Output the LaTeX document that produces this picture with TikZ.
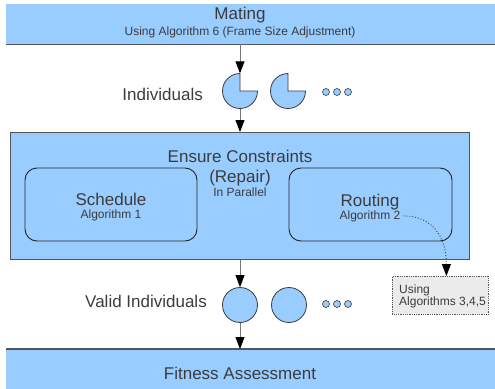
\documentclass[tikz,border=0pt]{standalone}
\usepackage{fontspec}
\setmainfont{Liberation Sans}
\usetikzlibrary{arrows.meta}
\definecolor{panel}{HTML}{99CCFF}
\definecolor{ink}{HTML}{3C3C3C}
\definecolor{edge}{HTML}{555555}
\definecolor{wire}{HTML}{777777}
\definecolor{note}{HTML}{EBEBEB}
\tikzset{
  big/.style={font=\fontsize{17}{20}\selectfont, text=ink, inner sep=0pt},
  small/.style={font=\fontsize{12}{14}\selectfont, text=ink, inner sep=0pt},
  tip/.style={-{Triangle[width=9pt,length=12pt,color=black]}},
  flow/.style={draw=wire, line width=0.9pt, tip},
  band/.style={fill=panel, inner sep=0pt, anchor=north west},
  task/.style={draw=black!85, line width=0.9pt, rounded corners=12pt,
               inner sep=0pt, minimum width=#1, minimum height=73pt},
  slot/.style={circle, inner sep=0pt, minimum size=35pt},
  member/.style={slot, draw=ink, fill=panel, line width=0.8pt},
  dot/.style={circle, draw=ink, fill=panel, line width=0.6pt, inner sep=0pt, minimum size=7pt},
}
\begin{document}
\begin{tikzpicture}[x=1pt, y=-1pt]
\useasboundingbox (0,0) rectangle (495,388);

% top stage: mating
\node[band, minimum width=489pt, minimum height=40pt] (mating) at (6,4) {};
\draw[edge, line width=1.2pt] (mating.south west) -- (mating.south east);
\node[big, anchor=base] (matingT) at (240,19) {Mating};
\node[small, anchor=base] (matingS) at (240,35.5) {Using Algorithm 6 (Frame Size Adjustment)};

% offspring (not yet repaired)
\node[big, anchor=base east] (indT) at (203,100) {Individuals};
\node[slot] (p1) at (240,91) {};
\node[slot] (p2) at (288,91) {};
\foreach \p in {p1,p2}
  \filldraw[fill=panel, draw=ink, line width=0.8pt]
    (\p.center) -- ++(0,-17.5) arc[start angle=90, end angle=360, radius=17.5pt] -- cycle;
\node[dot] (d1) at (326,92) {};
\node[dot] (d2) at (337,92) {};
\node[dot] (d3) at (348,92) {};

% repair stage
\node[band, draw=edge, line width=0.8pt, minimum width=459pt, minimum height=127pt] (repair) at (10,132) {};
\node[big, anchor=base] (rep1) at (240,162) {Ensure Constraints};
\node[big, anchor=base] (rep2) at (240,182) {(Repair)};
\node[small, anchor=base] (rep3) at (240,196.5) {In Parallel};

\node[task=172pt] (sched) at (111,204.5) {};
\node[big, anchor=base] (schedT) at (111,205) {Schedule};
\node[small, anchor=base] (schedS) at (111,218) {Algorithm 1};

\node[task=163pt] (route) at (370.5,204.5) {};
\node[big, anchor=base] (routeT) at (370,206) {Routing};
\node[small, anchor=base] (routeS) at (370,219) {Algorithm 2};

% note on routing
\node[fill=note, draw=edge, densely dotted, line width=0.8pt, inner sep=0pt,
      minimum width=96pt, minimum height=38pt, anchor=north west] (using) at (392,276) {};
\node[small, anchor=base west] (using1) at (399,293) {Using};
\node[small, anchor=base west] (using2) at (399,305) {Algorithms 3,4,5};
\draw[ink, dotted, line width=0.9pt, tip]
  ([xshift=3pt]routeS.east) .. controls +(28,0) and +(0,-40) .. ([xshift=6pt]using.north);

% repaired offspring
\node[big, anchor=base east] (validT) at (207,307) {Valid Individuals};
\node[member] (v1) at (240,305) {};
\node[member] (v2) at (289,305) {};
\node[dot] (e1) at (326,304) {};
\node[dot] (e2) at (337,304) {};
\node[dot] (e3) at (348,304) {};

% bottom stage: fitness
\node[band, minimum width=489pt, minimum height=40pt] (fitness) at (6,349) {};
\draw[edge, line width=1.2pt] (fitness.north west) -- (fitness.north east);
\node[big, anchor=base] (fitT) at (240,379) {Fitness Assessment};

% flow between stages
\draw[flow] (p1.north |- mating.south) -- (p1.north);
\draw[flow] (p1.south) -- (p1.south |- repair.north);
\draw[flow] (v1.north |- repair.south) -- (v1.north);
\draw[flow] (v1.south) -- (v1.south |- fitness.north);
\end{tikzpicture}
\end{document}
